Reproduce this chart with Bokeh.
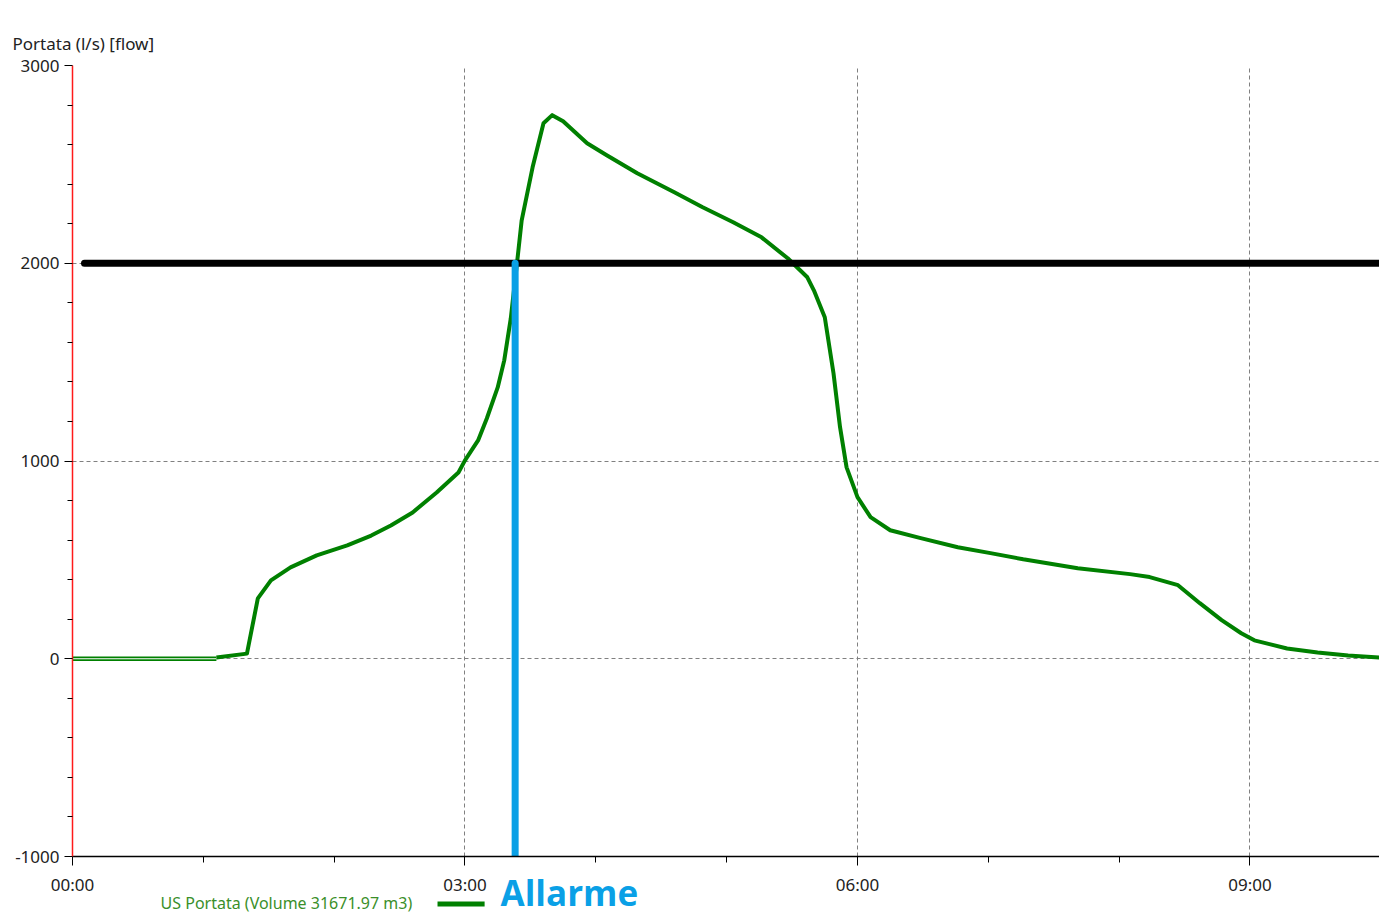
from bokeh.plotting import figure
from bokeh.models import Range1d, FixedTicker, Title
from bokeh.core.properties import value
from bokeh.embed import file_html
from bokeh.resources import INLINE

# ---- data (time in minutes from 00:00, flow in l/s) ----
baseline_minutes = [0, 66]
baseline_flow = [0, 0]

minutes = [66, 80, 85, 91, 100, 112, 126, 137, 146, 156, 167, 177, 180, 186, 190,
           195, 198, 201, 204, 206, 211, 216, 220, 225, 236, 245, 259, 276, 289,
           303, 316, 328, 337, 340, 345, 349, 352, 355, 360, 366, 375, 389, 406,
           421, 436, 461, 485, 494, 507, 517, 527, 536, 542, 557, 571, 585, 600]
flow = [6, 26, 305, 396, 462, 523, 573, 623, 674, 740, 841, 942, 1003, 1104, 1215,
        1372, 1509, 1721, 2015, 2217, 2485, 2708, 2749, 2718, 2607, 2546, 2455, 2359, 2283,
        2207, 2131, 2025, 1929, 1863, 1727, 1444, 1171, 968, 817, 716, 650, 610, 564,
        534, 503, 458, 428, 413, 372, 281, 195, 129, 93, 52, 32, 16, 6]

threshold_minutes = [5.5, 600]
threshold_flow = [2000, 2000]

alarm_minutes = [203, 203]
alarm_flow = [2000, -1000]

x_ticks = [0, 180, 360, 540]
x_tick_labels = ["00:00", "03:00", "06:00", "09:00"]
x_minor_ticks = [60, 120, 240, 300, 420, 480, 600]
y_ticks = [-1000, 0, 1000, 2000, 3000]
y_tick_labels = ["-1000", "0", "1000", "2000", "3000"]
y_minor_ticks = [v for v in range(-1000, 3001, 200) if v % 1000 != 0]

y_title = "Portata (l/s) [flow]"
series_label = "US Portata (Volume 31671.97 m3)"
alarm_label = "Allarme"

# legend placement (below the axis, in data units)
legend_text_pos = (40.4, -1236)
legend_sample_x = [167.4, 189.0]
legend_sample_y = [-1240, -1240]
alarm_text_pos = (196.3, -1182)

FONT = "Noto Sans"

p = figure(width=1379, height=916, output_backend="svg", toolbar_location=None,
           x_range=Range1d(0, 599.4), y_range=Range1d(-1000, 3000),
           min_border_left=72, min_border_right=0, min_border_top=65, min_border_bottom=60)
p.outline_line_color = None
p.background_fill_color = "white"
p.border_fill_color = "white"

# axes
xa = p.xaxis[0]
xa.ticker = FixedTicker(ticks=x_ticks, minor_ticks=x_minor_ticks)
xa.major_label_overrides = dict(zip(x_ticks, x_tick_labels))
xa.axis_line_color = "black"
xa.axis_line_width = 1.5
xa.major_tick_line_color = "black"
xa.minor_tick_line_color = "black"
xa.major_tick_in = 0
xa.major_tick_out = 9
xa.minor_tick_in = 0
xa.minor_tick_out = 6
xa.major_label_standoff = 7
xa.major_label_text_font = FONT
xa.major_label_text_font_size = "17px"
xa.major_label_text_color = "#222222"

ya = p.yaxis[0]
ya.ticker = FixedTicker(ticks=y_ticks, minor_ticks=y_minor_ticks)
ya.major_label_overrides = dict(zip(y_ticks, y_tick_labels))
ya.axis_line_color = "#ff1a1a"
ya.axis_line_width = 1.5
ya.major_tick_line_color = "black"
ya.minor_tick_line_color = "black"
ya.major_tick_in = 0
ya.major_tick_out = 8
ya.minor_tick_in = 0
ya.minor_tick_out = 5
ya.major_label_standoff = 5
ya.major_label_text_font = FONT
ya.major_label_text_font_size = "17px"
ya.major_label_text_color = "#222222"

# grid
p.xgrid.ticker = FixedTicker(ticks=[180, 360, 540])
p.ygrid.ticker = FixedTicker(ticks=[0, 1000, 2000, 3000])
for g in (p.xgrid, p.ygrid):
    g.grid_line_color = "#808080"
    g.grid_line_dash = "4 3"
    g.grid_line_width = 1

# series
p.line(baseline_minutes, baseline_flow, line_color="#008000", line_width=4.5)
p.line(baseline_minutes, baseline_flow, line_color="white", line_width=1.2)
p.line(minutes, flow, line_color="#008000", line_width=4, line_join="round")

# threshold and alarm
p.line(threshold_minutes, threshold_flow, line_color="black", line_width=7, line_cap="round")
p.line(alarm_minutes, alarm_flow, line_color="#0aa0e6", line_width=7, line_cap="round")

# y title above the axis
t = Title(text=y_title, align="left", offset=-60, standoff=22,
          text_font=FONT, text_font_size="17px", text_font_style="normal",
          text_color="#222222")
p.add_layout(t, "above")

# legend row below the axis (drawn above the frame clip)
p.text(x=[legend_text_pos[0]], y=[legend_text_pos[1]], text=[series_label],
       text_font=value(FONT), text_font_size=value("16px"), text_color="#3a8f2a",
       text_baseline="middle", text_align="left", level="overlay")
p.line(legend_sample_x, legend_sample_y, line_color="#008000", line_width=5, level="overlay")
p.text(x=[alarm_text_pos[0]], y=[alarm_text_pos[1]], text=[alarm_label],
       text_font=value("Open Sans"), text_font_size=value("35px"), text_font_style="bold",
       text_color="#0aa0e6", text_baseline="middle", text_align="left", level="overlay")

open("out.html", "w").write(file_html(p, INLINE))
